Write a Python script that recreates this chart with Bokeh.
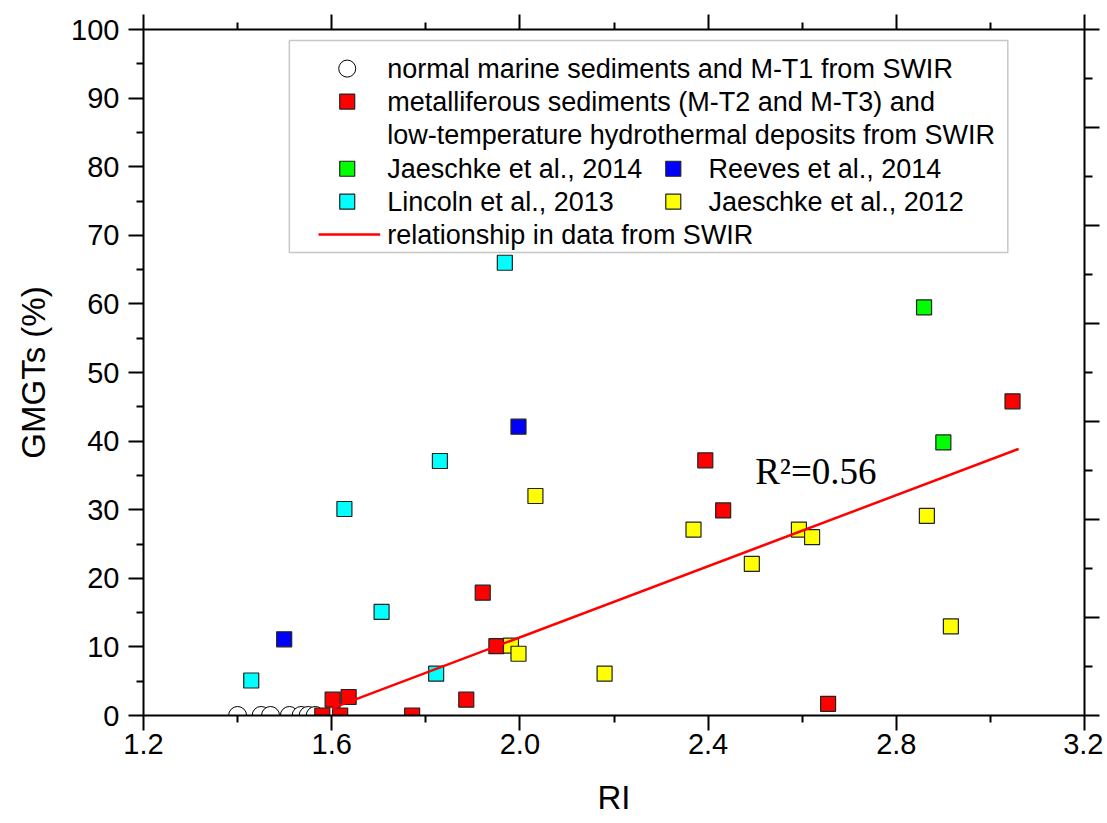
from bokeh.plotting import figure
from bokeh.models import (Range1d, LinearAxis, FixedTicker, NumeralTickFormatter,
                          CustomJSTickFormatter, Label, BoxAnnotation)
from bokeh.embed import file_html
from bokeh.resources import INLINE

# ---------------- data ----------------
normal_x = [1.40, 1.45, 1.47, 1.51, 1.535, 1.55, 1.565]
normal_y = [0, 0, 0, 0, 0, 0, 0]

metal_x = [1.580, 1.602, 1.618, 1.636, 1.771, 1.886, 1.921, 1.950, 2.394, 2.432, 2.655, 3.047]
metal_y = [0, 2.3, 0, 2.7, 0, 2.3, 17.9, 10.1, 37.2, 29.9, 1.7, 45.8]

jaeschke2014_x = [2.859, 2.900]
jaeschke2014_y = [59.5, 39.8]

reeves2014_x = [1.499, 1.997]
reeves2014_y = [11.1, 42.1]

lincoln2013_x = [1.429, 1.627, 1.706, 1.822, 1.830, 1.968]
lincoln2013_y = [5.1, 30.1, 15.1, 6.1, 37.1, 66.0]

jaeschke2012_x = [1.981, 1.997, 2.033, 2.180, 2.369, 2.493, 2.593, 2.621, 2.865, 2.916]
jaeschke2012_y = [10.2, 9.0, 32.0, 6.1, 27.1, 22.1, 27.1, 26.0, 29.1, 13.0]

fit_slope = 25.9
fit_intercept = -40.4
fit_x = [1.60, 3.06]
r2_text = "R\u00b2=0.56"

x_ticks = [1.2, 1.6, 2.0, 2.4, 2.8, 3.2]
x_minor = [1.4, 1.8, 2.2, 2.6, 3.0]
y_ticks = [0, 10, 20, 30, 40, 50, 60, 70, 80, 90, 100]
y_minor = [5, 15, 25, 35, 45, 55, 65, 75, 85, 95]
right_ticks = [0, 2, 4, 6, 8, 10, 12, 14]
right_minor = [1, 3, 5, 7, 9, 11, 13]

legend_labels = [
    "normal marine sediments and M-T1 from SWIR",
    "metalliferous sediments (M-T2 and M-T3) and",
    "low-temperature hydrothermal deposits from SWIR",
    "Jaeschke et al., 2014",
    "Reeves et al., 2014",
    "Lincoln et al., 2013",
    "Jaeschke et al., 2012",
    "relationship in data from SWIR",
]

# ---------------- figure ----------------
FONT = "Liberation Sans"
p = figure(width=1103, height=818, x_range=Range1d(1.2, 3.2), y_range=Range1d(0, 100),
           output_backend="svg", toolbar_location=None,
           min_border_left=143, min_border_right=19, min_border_top=29, min_border_bottom=103)
p.grid.visible = False
p.outline_line_color = None
p.background_fill_color = "white"
p.border_fill_color = "white"
p.extra_y_ranges = {"r": Range1d(0, 14)}


def style_axis(ax, show_labels=True):
    ax.axis_line_width = 2
    ax.axis_line_color = "black"
    ax.major_tick_line_width = 2
    ax.minor_tick_line_width = 2
    ax.major_tick_line_color = "black"
    ax.minor_tick_line_color = "black"
    ax.major_tick_in = 0
    ax.major_tick_out = 15
    ax.minor_tick_in = 0
    ax.minor_tick_out = 7
    ax.major_label_text_font = FONT
    ax.major_label_text_color = "black"
    if show_labels:
        ax.major_label_text_font_size = "29px"
    else:
        ax.formatter = CustomJSTickFormatter(code="return ''")
        ax.major_label_text_font_size = "1px"
        ax.major_label_standoff = 0
    ax.axis_label_text_font = FONT
    ax.axis_label_text_font_style = "normal"
    ax.axis_label_text_font_size = "33px"
    ax.axis_label_text_color = "black"


xax = p.xaxis[0]
xax.ticker = FixedTicker(ticks=x_ticks, minor_ticks=x_minor)
xax.formatter = NumeralTickFormatter(format="0.0")
style_axis(xax)
xax.axis_label = "RI"
xax.major_label_standoff = 3
xax.axis_label_standoff = 22

yax = p.yaxis[0]
yax.ticker = FixedTicker(ticks=y_ticks, minor_ticks=y_minor)
style_axis(yax)
yax.axis_label = "GMGTs (%)"
yax.major_label_standoff = 9
yax.axis_label_standoff = 16

top = LinearAxis(ticker=FixedTicker(ticks=x_ticks, minor_ticks=x_minor))
style_axis(top, show_labels=False)
p.add_layout(top, "above")

right = LinearAxis(y_range_name="r", ticker=FixedTicker(ticks=right_ticks, minor_ticks=right_minor))
style_axis(right, show_labels=False)
right.minor_tick_out = 8
p.add_layout(right, "right")

# ---------------- data marks ----------------
OUT = "#222222"
p.scatter(normal_x, normal_y, marker="circle", size=18, fill_color="white",
          line_color="black", line_width=1)
p.scatter(metal_x, metal_y, marker="square", size=15, fill_color="#FF0000",
          line_color=OUT, line_width=1.2)
p.scatter(jaeschke2014_x, jaeschke2014_y, marker="square", size=15, fill_color="#00FF00",
          line_color=OUT, line_width=1.2)
p.scatter(reeves2014_x, reeves2014_y, marker="square", size=15, fill_color="#0000FF",
          line_color=OUT, line_width=1.2)
p.scatter(lincoln2013_x, lincoln2013_y, marker="square", size=15, fill_color="#00FFFF",
          line_color=OUT, line_width=1.2)
p.scatter(jaeschke2012_x, jaeschke2012_y, marker="square", size=15, fill_color="#FFFF00",
          line_color=OUT, line_width=1.2)

fit_y = [fit_slope * v + fit_intercept for v in fit_x]
p.line(fit_x, fit_y, line_color="#FF0000", line_width=2.5)

p.add_layout(Label(x=2.500, y=35.6, text=r2_text, text_font="Liberation Serif",
                   text_font_size="37px", text_color="black", text_baseline="alphabetic"))

# ---------------- legend (drawn by hand) ----------------
box = BoxAnnotation(left=1.510, right=3.037, top=98.4, bottom=67.5,
                    fill_color="white", fill_alpha=1.0, line_color="#444444",
                    line_width=1.5, level="underlay")
p.add_layout(box)

LX_KEY = 1.633
LX_TXT = 1.718
LX_KEY2 = 2.326
LX_TXT2 = 2.401
ROWS = [94.3, 89.5, 84.6, 79.7, 74.9, 70.1]

p.scatter([LX_KEY], [ROWS[0]], marker="circle", size=17, fill_color="white",
          line_color="black", line_width=1)
p.scatter([LX_KEY], [ROWS[1]], marker="square", size=15, fill_color="#FF0000",
          line_color=OUT, line_width=1.2)
p.scatter([LX_KEY], [ROWS[3]], marker="square", size=15, fill_color="#00FF00",
          line_color=OUT, line_width=1.2)
p.scatter([LX_KEY2], [ROWS[3]], marker="square", size=15, fill_color="#0000FF",
          line_color=OUT, line_width=1.2)
p.scatter([LX_KEY], [ROWS[4]], marker="square", size=15, fill_color="#00FFFF",
          line_color=OUT, line_width=1.2)
p.scatter([LX_KEY2], [ROWS[4]], marker="square", size=15, fill_color="#FFFF00",
          line_color=OUT, line_width=1.2)
p.line([1.572, 1.703], [ROWS[5], ROWS[5]], line_color="#FF0000", line_width=2.5)

label_pos = [(LX_TXT, ROWS[0]), (LX_TXT, ROWS[1]), (LX_TXT, ROWS[2]), (LX_TXT, ROWS[3]),
             (LX_TXT2, ROWS[3]), (LX_TXT, ROWS[4]), (LX_TXT2, ROWS[4]), (LX_TXT, ROWS[5])]
for (lx, ly), txt in zip(label_pos, legend_labels):
    p.add_layout(Label(x=lx, y=ly, text=txt, text_font=FONT, text_font_size="27px",
                       text_color="black", text_baseline="middle", text_align="left"))

open("out.html", "w").write(file_html(p, INLINE))
